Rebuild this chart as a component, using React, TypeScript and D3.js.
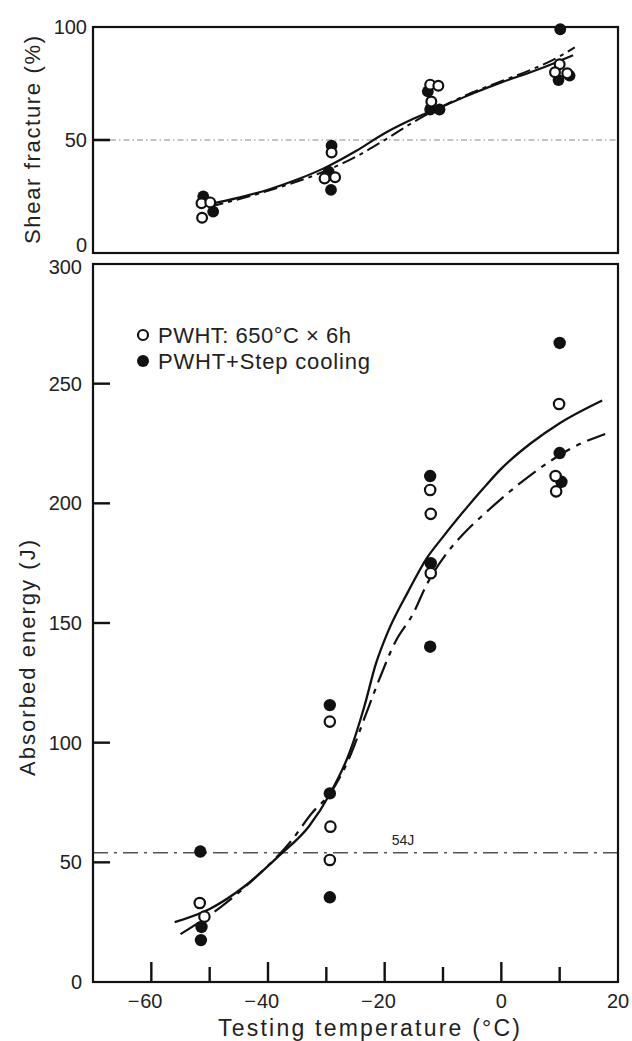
import React from "react";
import * as d3 from "d3";

// ---- data (temperature °C, value) ----
const xTicksMajor = [-60, -40, -20, 0, 20];
const xTicksMinor = [-50, -30, -10, 10];
const topYTicks = [0, 50, 100];
const botYTicks = [0, 50, 100, 150, 200, 250, 300];

// Shear fracture (%)
const shearOpen: [number, number][] = [
  [-51.4, 22], [-49.9, 22.4], [-51.3, 15.6],
  [-30.3, 33], [-28.5, 33.5], [-29.1, 44.5],
  [-12.2, 74.5], [-10.8, 74], [-12, 67],
  [10, 83.5], [9.2, 80], [11.3, 79.5],
];
const shearFilled: [number, number][] = [
  [-51.1, 25], [-49.4, 18.3],
  [-29.1, 47.5], [-29.6, 36], [-29.2, 27.9],
  [-12.6, 71.5], [-12.2, 63.5], [-10.6, 63.5],
  [10.1, 99], [9.8, 76.5], [11.7, 78.5],
];
const shearSolid: [number, number][] = [
  [-50.3, 21.5], [-45, 24.5], [-40, 28], [-35, 32.5], [-30, 38], [-25, 45],
  [-20, 53], [-15, 59.5], [-10, 65], [-5, 70.5], [0, 75.5], [5, 80], [10, 85], [12.3, 87.5],
];
const shearDash: [number, number][] = [
  [-50, 20.5], [-40, 27.5], [-30, 36.5], [-25, 42.5], [-20, 50], [-15, 58],
  [-10, 65], [-5, 71], [0, 76], [5, 81], [10, 87], [12.6, 91],
];

// Absorbed energy (J)
const energyOpen: [number, number][] = [
  [-51.7, 33], [-50.9, 27.3],
  [-29.4, 108.8], [-29.3, 64.9], [-29.4, 51],
  [-12.2, 205.6], [-12.1, 195.6], [-12.1, 170.8],
  [9.9, 241.5], [9.3, 211.4], [9.4, 205],
];
const energyFilled: [number, number][] = [
  [-51.6, 54.5], [-51.4, 23], [-51.5, 17.5],
  [-29.4, 115.7], [-29.4, 78.8], [-29.4, 35.4],
  [-12.2, 211.4], [-12.1, 175], [-12.2, 140.1],
  [10, 267], [10, 221], [10.3, 209],
];
const energySolid: [number, number][] = [
  [-56, 25], [-50, 30.5], [-44, 40], [-38, 53], [-33, 65], [-29.3, 79], [-26, 96],
  [-23.5, 115], [-21.5, 133], [-19.5, 146], [-16, 163], [-12.8, 177],
  [-10, 186], [-6, 198], [-3, 206.5], [0, 214.5], [5, 225], [10, 233.5], [17.3, 243],
];
const energyDash: [number, number][] = [
  [-55, 20], [-48, 31.5], [-42, 44], [-36, 59], [-32.5, 70.5], [-29.3, 79], [-26, 94],
  [-23.5, 110], [-21, 126], [-18.2, 142], [-15.1, 154], [-12.8, 166], [-9.4, 179],
  [-6.6, 187], [-2.5, 196.5], [3, 208], [8, 217], [12, 223], [17.8, 229],
];

const ref54 = 54;
const ref50 = 50;

const FONT = "'Liberation Sans', Arial, sans-serif";

export default function App() {
  const W = 632, H = 1041;
  const L = 93, R = 618;
  const x = d3.scaleLinear().domain([-70, 20]).range([L, R]);
  const yTop = d3.scaleLinear().domain([0, 100]).range([253, 27]);
  const yBot = d3.scaleLinear().domain([0, 300]).range([982, 264]);

  const lineTop = d3.line<[number, number]>().x(d => x(d[0])).y(d => yTop(d[1])).curve(d3.curveMonotoneX);
  const lineBot = d3.line<[number, number]>().x(d => x(d[0])).y(d => yBot(d[1])).curve(d3.curveMonotoneX);

  const r = 5.9;
  const fs = 20;

  const xLabel = (v: number) => {
    const abs = Math.abs(v);
    const px = x(v);
    return (
      <g key={"xl" + v}>
        <text x={px} y={1008} textAnchor="middle" fontSize={fs} fontFamily={FONT} fill="#222">{abs}</text>
        {v < 0 && (
          <text x={px - 12} y={1008} textAnchor="end" fontSize={fs} fontFamily={FONT} fill="#222">−</text>
        )}
      </g>
    );
  };

  return (
    <svg width={W} height={H} style={{ position: "absolute", left: 0, top: 0, background: "#fff" }}>
      <rect x={0} y={0} width={W} height={H} fill="#fff" />

      {/* ---------- Top panel ---------- */}
      <line x1={x(-70) + 17} x2={R} y1={yTop(ref50)} y2={yTop(ref50)} stroke="#888" strokeWidth={1.1} strokeDasharray="6,3,1.5,3" />
      <rect x={L} y={yTop(100)} width={R - L} height={yTop(0) - yTop(100)} fill="none" stroke="#111" strokeWidth={2.2} />
      {topYTicks.filter(v => v > 0 && v < 100).map(v => (
        <line key={"tt" + v} x1={L} x2={L + 17} y1={yTop(v)} y2={yTop(v)} stroke="#111" strokeWidth={2.6} />
      ))}
      {topYTicks.map(v => (
        <text key={"tl" + v} x={87} y={yTop(v) + (v === 0 ? -1 : 7)} textAnchor="end" fontSize={fs} fontFamily={FONT} fill="#222">{v}</text>
      ))}
      <path d={lineTop(shearDash) || ""} fill="none" stroke="#111" strokeWidth={2} strokeDasharray="14,5,4,5" />
      <path d={lineTop(shearSolid) || ""} fill="none" stroke="#111" strokeWidth={2.2} />
      {shearFilled.map((d, i) => (
        <circle key={"sf" + i} cx={x(d[0])} cy={yTop(d[1])} r={r} fill="#111" />
      ))}
      {shearOpen.map((d, i) => (
        <circle key={"so" + i} cx={x(d[0])} cy={yTop(d[1])} r={r - 1} fill="#fff" stroke="#111" strokeWidth={2.2} />
      ))}
      <text transform={`translate(40,${(27 + 253) / 2}) rotate(-90)`} textAnchor="middle" fontSize={22} fontFamily={FONT} fill="#222" textLength={208} lengthAdjust="spacing">Shear fracture (%)</text>

      {/* ---------- Bottom panel ---------- */}
      <line x1={L} x2={R} y1={yBot(ref54)} y2={yBot(ref54)} stroke="#555" strokeWidth={1.4} strokeDasharray="15,6,3,6" />
      <text x={403} y={yBot(ref54) - 8} textAnchor="middle" fontSize={14} fontFamily={FONT} fill="#222">54J</text>
      <rect x={L} y={yBot(300)} width={R - L} height={yBot(0) - yBot(300)} fill="none" stroke="#111" strokeWidth={2.2} />
      {botYTicks.filter(v => v > 0 && v < 300).map(v => (
        <line key={"bt" + v} x1={L} x2={L + 17} y1={yBot(v)} y2={yBot(v)} stroke="#111" strokeWidth={2.4} />
      ))}
      {botYTicks.map(v => (
        <text key={"bl" + v} x={82} y={yBot(v) + (v === 300 ? 10 : 7)} textAnchor="end" fontSize={fs} fontFamily={FONT} fill="#222">{v}</text>
      ))}
      {xTicksMajor.filter(v => v > -70 && v < 20).map(v => (
        <line key={"xm" + v} x1={x(v)} x2={x(v)} y1={yBot(0)} y2={yBot(0) - 20} stroke="#111" strokeWidth={2.4} />
      ))}
      {xTicksMinor.map(v => (
        <line key={"xn" + v} x1={x(v)} x2={x(v)} y1={yBot(0)} y2={yBot(0) - 15} stroke="#111" strokeWidth={2.4} />
      ))}
      {xTicksMajor.map(v => xLabel(v))}

      <path d={lineBot(energyDash) || ""} fill="none" stroke="#111" strokeWidth={2.2} strokeDasharray="22,7,5,7" />
      <path d={lineBot(energySolid) || ""} fill="none" stroke="#111" strokeWidth={2.3} />
      {energyFilled.map((d, i) => (
        <circle key={"ef" + i} cx={x(d[0])} cy={yBot(d[1])} r={r + 0.3} fill="#111" />
      ))}
      {energyOpen.map((d, i) => (
        <circle key={"eo" + i} cx={x(d[0])} cy={yBot(d[1])} r={r - 0.7} fill="#fff" stroke="#111" strokeWidth={2.2} />
      ))}

      {/* legend */}
      <circle cx={143} cy={335} r={5} fill="#fff" stroke="#111" strokeWidth={2.2} />
      <text x={158} y={343} fontSize={22} fontFamily={FONT} fill="#222" textLength={193} lengthAdjust="spacing">PWHT: 650°C × 6h</text>
      <circle cx={143} cy={361} r={6} fill="#111" />
      <text x={158} y={369} fontSize={22} fontFamily={FONT} fill="#222" textLength={212} lengthAdjust="spacing">PWHT+Step cooling</text>

      <text transform={`translate(35,${(264 + 982) / 2 + 35}) rotate(-90)`} textAnchor="middle" fontSize={22} fontFamily={FONT} fill="#222" textLength={236} lengthAdjust="spacing">Absorbed energy (J)</text>
      <text x={369} y={1036} textAnchor="middle" fontSize={23} fontFamily={FONT} fill="#222" textLength={302} lengthAdjust="spacing">Testing temperature (°C)</text>
    </svg>
  );
}
